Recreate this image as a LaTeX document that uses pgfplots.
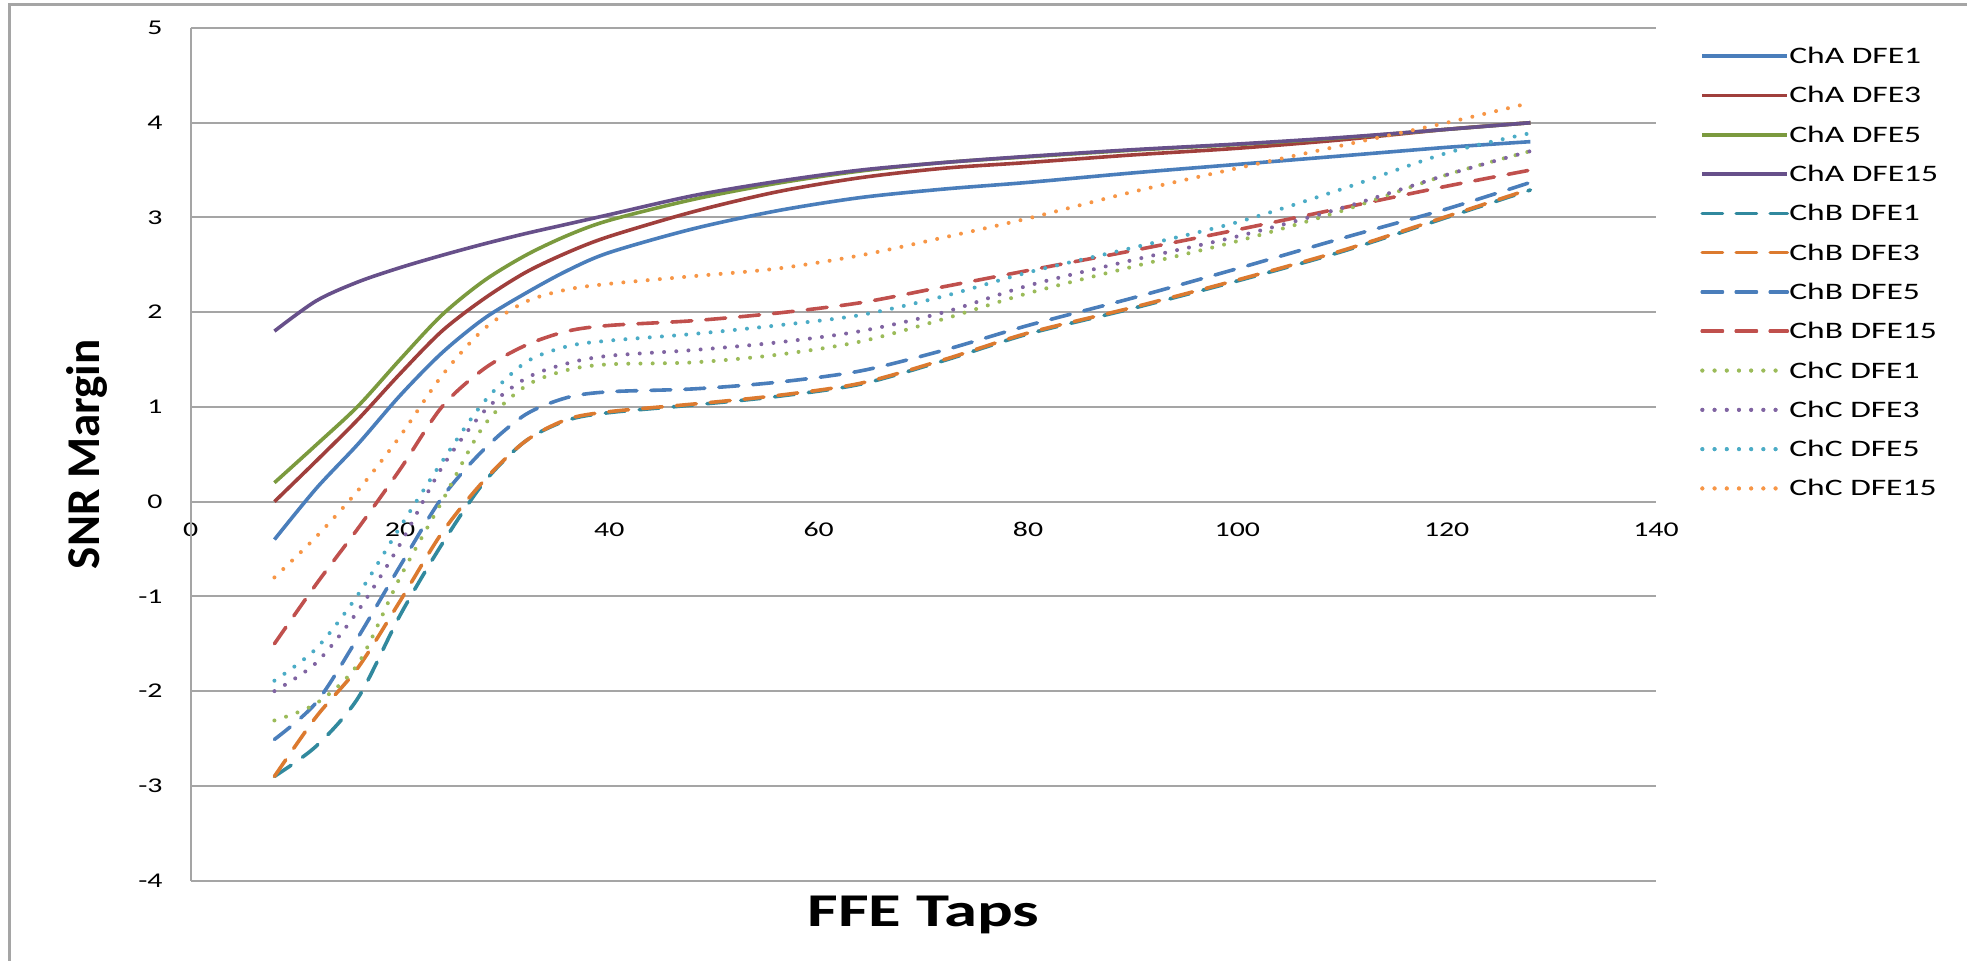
\documentclass[border=0pt]{standalone}
\usepackage{pgfplots}
\usepackage{pgfplotstable}
\pgfplotsset{compat=1.18}
\usepackage{fontspec}
\setmainfont{Carlito}[FakeStretch=1.42]
\newfontfamily\ylabfont{Carlito}

\definecolor{cA1}{HTML}{4A7EBB}
\definecolor{cA3}{HTML}{A03F3C}
\definecolor{cA5}{HTML}{7B9A3E}
\definecolor{cA15}{HTML}{67508A}
\definecolor{cB1}{HTML}{31899E}
\definecolor{cB3}{HTML}{DC7A2F}
\definecolor{cB5}{HTML}{4A7EBB}
\definecolor{cB15}{HTML}{C0504D}
\definecolor{cC1}{HTML}{9BBB59}
\definecolor{cC3}{HTML}{8064A2}
\definecolor{cC5}{HTML}{4BACC6}
\definecolor{cC15}{HTML}{F79646}
\definecolor{gridc}{RGB}{165,165,165}

\pgfplotstableread{
x   A1    A3    A5    A15    B1    B3    B5    B15   C1    C3    C5    C15
8   -0.40 0.00  0.20  1.80  -2.90 -2.90 -2.51 -1.50 -2.31 -2.00 -1.89 -0.80
12  0.14  0.43  0.60  2.12  -2.58 -2.27 -2.12 -0.87 -2.13 -1.70 -1.55 -0.37
16  0.61  0.87  1.01  2.32  -2.07 -1.75 -1.43 -0.28 -1.71 -1.15 -0.98 0.12
20  1.12  1.35  1.50  2.47  -1.20 -1.05 -0.68 0.34  -0.80 -0.45 -0.27 0.69
24  1.57  1.80  1.97  2.60  -0.45 -0.33 0.04  1.00  0.00  0.36  0.42  1.33
28  1.93  2.14  2.33  2.72  0.20  0.22  0.55  1.40  0.80  0.95  1.05  1.82
32  2.20  2.42  2.60  2.83  0.64  0.64  0.92  1.65  1.22  1.30  1.47  2.11
36  2.44  2.63  2.81  2.93  0.86  0.87  1.10  1.80  1.39  1.46  1.64  2.24
40  2.63  2.80  2.97  3.03  0.94  0.95  1.16  1.86  1.45  1.54  1.70  2.30
48  2.88  3.06  3.19  3.23  1.02  1.03  1.19  1.91  1.47  1.60  1.77  2.38
56  3.07  3.27  3.36  3.38  1.11  1.12  1.26  1.99  1.55  1.68  1.86  2.46
64  3.21  3.42  3.49  3.50  1.24  1.25  1.38  2.10  1.69  1.80  1.97  2.60
72  3.30  3.52  3.58  3.58  1.49  1.50  1.60  2.27  1.93  2.00  2.17  2.79
80  3.37  3.58  3.64  3.645 1.77  1.78  1.86  2.44  2.20  2.28  2.42  2.99
90  3.47  3.66  3.71  3.715 2.04  2.05  2.15  2.65  2.48  2.55  2.68  3.27
100 3.56  3.73  3.77  3.775 2.33  2.34  2.46  2.87  2.75  2.80  2.95  3.52
110 3.65  3.82  3.84  3.845 2.64  2.65  2.78  3.10  3.07  3.10  3.30  3.76
120 3.74  3.93  3.93  3.93  3.00  3.01  3.09  3.33  3.45  3.45  3.68  4.00
128 3.80  4.00  4.00  4.00  3.29  3.30  3.37  3.50  3.70  3.70  3.89  4.21
}\datatable

\begin{document}
\begin{tikzpicture}
\useasboundingbox (0pt,0pt) rectangle (983.5pt,480.5pt);
\fill[white] (0pt,0pt) rectangle (983.5pt,480.5pt);
\draw[gridc, line width=1.5pt] (4.6pt,0pt) -- (4.6pt,478pt) -- (983.5pt,478pt);
\begin{axis}[
  at={(95.35pt,40.2pt)}, anchor=south west,
  scale only axis, width=732.65pt, height=426.3pt,
  xmin=0, xmax=140, ymin=-4, ymax=5,
  xtick={0,20,...,140}, ytick={-4,-3,...,5},
  axis line style={draw=none},
  major tick length=0pt,
  ymajorgrids, major grid style={gridc, line width=1pt},
  extra x ticks={0}, extra x tick labels={},
  extra x tick style={grid=major, major grid style={gridc, line width=1pt}},
  /pgf/number format/assume math mode=true,
  ticklabel style={font=\fontsize{10.5}{12}\selectfont, text=black},
  yticklabel style={anchor=east, inner sep=0pt, xshift=-13.85pt},
  xticklabel style={anchor=north, inner sep=0pt, yshift=179.2pt},
  xlabel={\bfseries FFE Taps},
  xlabel style={font=\fontsize{23.5}{26}\selectfont, at={(axis description cs:0.5,-0.0544)}, anchor=base},
  ylabel={\ylabfont\bfseries SNR Margin},
  ylabel style={font=\fontsize{23.5}{26}\selectfont, at={(axis description cs:-0.0619,0.5)}, anchor=base, rotate=0},
  legend cell align=left,
  legend style={at={(axis description cs:1.03,0.9905)}, anchor=north west, draw=none, fill=none,
    inner sep=0pt, row sep=0pt, font=\fontsize{11.8}{13}\selectfont,
    nodes={inner sep=0pt, text height=13.6pt, text depth=6.05pt}},
  legend image code/.code={\draw[#1] (0pt,0pt) -- (39pt,0pt); \path (0pt,0pt) -- (42.5pt,0pt);},
  every axis plot/.append style={line width=1.8pt, smooth},
  solidA/.style={solid},
  dashB/.style={line cap=round, dash pattern=on 10pt off 7pt},
  dotC/.style={line width=2pt, line cap=round, dash pattern=on 0pt off 6.1pt},
]
\addplot[cA1, solidA] table[x=x, y=A1] {\datatable};
\addplot[cA3, solidA] table[x=x, y=A3] {\datatable};
\addplot[cA5, solidA] table[x=x, y=A5] {\datatable};
\addplot[cA15, solidA] table[x=x, y=A15] {\datatable};
\addplot[cB1, dashB] table[x=x, y=B1] {\datatable};
\addplot[cB3, dashB] table[x=x, y=B3] {\datatable};
\addplot[cB5, dashB] table[x=x, y=B5] {\datatable};
\addplot[cB15, dashB] table[x=x, y=B15] {\datatable};
\addplot[cC1, dotC] table[x=x, y=C1] {\datatable};
\addplot[cC3, dotC] table[x=x, y=C3] {\datatable};
\addplot[cC5, dotC] table[x=x, y=C5] {\datatable};
\addplot[cC15, dotC] table[x=x, y=C15] {\datatable};
\legend{ChA DFE1, ChA DFE3, ChA DFE5, ChA DFE15, ChB DFE1, ChB DFE3, ChB DFE5, ChB DFE15, ChC DFE1, ChC DFE3, ChC DFE5, ChC DFE15}
\end{axis}
\end{tikzpicture}
\end{document}
